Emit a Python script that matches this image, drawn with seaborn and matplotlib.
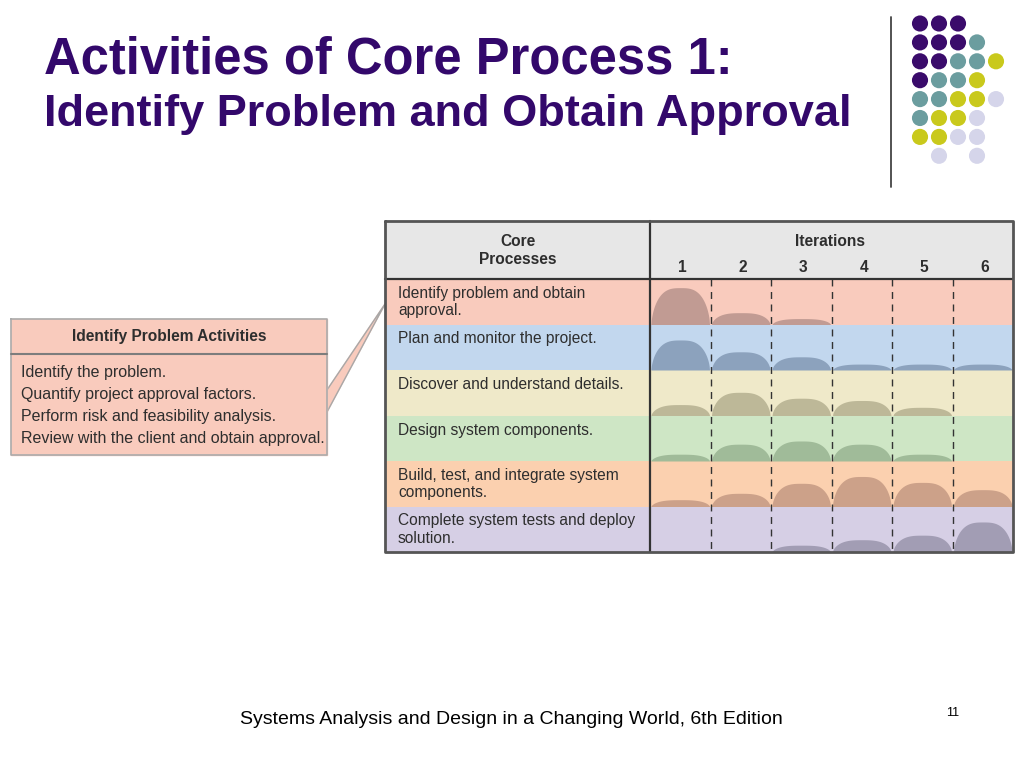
import matplotlib.pyplot as plt
import seaborn as sns
import pandas as pd
import numpy as np

# slide text
title_1 = "Activities of Core Process 1:"
title_2 = "Identify Problem and Obtain Approval"
footer = "Systems Analysis and Design in a Changing World, 6th Edition"
page_no = "11"

# table content
processes = ["Identify problem and obtain\napproval.",
             "Plan and monitor the project.",
             "Discover and understand details.",
             "Design system components.",
             "Build, test, and integrate system\ncomponents.",
             "Complete system tests and deploy\nsolution."]
iterations = ["1", "2", "3", "4", "5", "6"]
# effort per iteration, as fraction of the row height
effort = [
    [0.81, 0.26, 0.13, 0.00, 0.00, 0.00],
    [0.66, 0.40, 0.29, 0.13, 0.13, 0.13],
    [0.24, 0.51, 0.38, 0.33, 0.18, 0.00],
    [0.15, 0.37, 0.44, 0.37, 0.15, 0.00],
    [0.15, 0.29, 0.51, 0.66, 0.53, 0.37],
    [0.00, 0.00, 0.15, 0.27, 0.37, 0.66],
]
row_colors = ["#f9cbbd", "#c2d7ee", "#efe9c9", "#cee6c5", "#fbd0af", "#d6cfe5"]
hump_colors = ["#c19b93", "#8ca2bd", "#bdb898", "#a0bb99", "#cca189", "#a29db4"]

# callout box
box_title = "Identify Problem Activities"
box_items = ["Identify the problem.",
             "Quantify project approval factors.",
             "Perform risk and feasibility analysis.",
             "Review with the client and obtain approval."]

# decorative dot grid (row, col, colour key)
dot_rows = [0, 0, 0,
            1, 1, 1, 1,
            2, 2, 2, 2, 2,
            3, 3, 3, 3,
            4, 4, 4, 4, 4,
            5, 5, 5, 5,
            6, 6, 6, 6,
            7, 7]
dot_cols = [0, 1, 2,
            0, 1, 2, 3,
            0, 1, 2, 3, 4,
            0, 1, 2, 3,
            0, 1, 2, 3, 4,
            0, 1, 2, 3,
            0, 1, 2, 3,
            1, 3]
dot_keys = ["P", "P", "P",
            "P", "P", "P", "T",
            "P", "P", "T", "T", "Y",
            "P", "T", "T", "Y",
            "T", "T", "Y", "Y", "L",
            "T", "Y", "Y", "L",
            "Y", "Y", "L", "L",
            "L", "L"]
dot_palette = {"P": "#3a0b6b", "T": "#6b9d9f", "Y": "#c9c91c", "L": "#d5d5ea"}

PURPLE = "#33086b"
TXT = "#2e2e2e"
FONT = ["Liberation Sans", "DejaVu Sans"]
FS = 11.2


def hump(x0, x1, h, base):
    u = np.linspace(-1, 1, 160)
    f = (1 - np.abs(u) ** 3) ** 0.6
    return np.linspace(x0, x1, 160), base - h * f


def main():
    sns.set_style("white")
    plt.rcParams['font.family'] = FONT

    fig = plt.figure(figsize=(10.24, 7.68), dpi=100)
    ax = fig.add_axes([0, 0, 1, 1])
    ax.set_xlim(0, 1024)
    ax.set_ylim(768, 0)
    ax.axis('off')

    # titles
    ax.text(44, 73, title_1, fontsize=36.5, fontweight='bold', color=PURPLE, va='baseline')
    ax.text(44, 126, title_2, fontsize=32.5, fontweight='bold', color=PURPLE, va='baseline')
    ax.plot([891, 891], [17, 187], color="#444444", lw=1.3)

    # dot grid
    dots = pd.DataFrame({"x": [920 + 19 * c for c in dot_cols],
                         "y": [23.5 + 18.9 * r for r in dot_rows],
                         "k": dot_keys})
    sns.scatterplot(data=dots, x="x", y="y", hue="k", palette=dot_palette,
                    s=135, edgecolor='none', legend=False, ax=ax)

    # table geometry
    L, M, R = 385, 650, 1013
    top, head, bot = 221, 279, 552
    rh = (bot - head) / len(processes)
    cw = (R - M) / len(iterations)

    ax.fill_between([L, R], top, head, color="#e7e7e7", zorder=1)
    for i, name in enumerate(processes):
        y0 = head + i * rh
        ax.fill_between([L, R], y0, y0 + rh, color=row_colors[i], lw=0, zorder=1)
        for k, line in enumerate(name.split("\n")):
            ax.text(398, y0 + 19 + 17.5 * k, line, fontsize=FS, color=TXT,
                    va='baseline', zorder=3)
        for j, v in enumerate(effort[i]):
            if v <= 0:
                continue
            xs, ys = hump(M + j * cw + 1, M + (j + 1) * cw - 1, v * rh, y0 + rh)
            ax.fill_between(xs, ys, y0 + rh, color=hump_colors[i], lw=0, zorder=2)

    for j in range(1, len(iterations)):
        ax.plot([M + j * cw] * 2, [head, bot], color="#333333", lw=1,
                ls=(0, (5, 4)), zorder=3)
    for j, it in enumerate(iterations):
        ax.text(M + (j + 0.5) * cw + 2, 268, it, fontsize=FS, fontweight='bold',
                color=TXT, ha='center', va='center', zorder=3)
    ax.text(518, 241, "Core", fontsize=FS, fontweight='bold', color=TXT,
            ha='center', va='center', zorder=3)
    ax.text(518, 259, "Processes", fontsize=FS, fontweight='bold', color=TXT,
            ha='center', va='center', zorder=3)
    ax.text(830, 241, "Iterations", fontsize=FS, fontweight='bold', color=TXT,
            ha='center', va='center', zorder=3)

    ax.plot([L, R], [head, head], color="#333333", lw=1.6, zorder=4)
    ax.plot([M, M], [top, bot], color="#333333", lw=1.6, zorder=4)
    ax.plot([L, R, R, L, L], [top, top, bot, bot, top], color="#555555", lw=2, zorder=4)

    # callout
    ax.fill([327, 385, 327], [390, 304, 412], color="#f9cbbd", zorder=1)
    ax.plot([327, 385, 327], [390, 304, 412], color="#a8a8a8", lw=1, zorder=1)
    ax.fill_between([11, 327], 319, 455, color="#f9cbbd", zorder=2)
    ax.plot([11, 327, 327, 11, 11], [319, 319, 455, 455, 319], color="#ababab", lw=1.2, zorder=3)
    ax.plot([11, 327], [354, 354], color="#7d7d7d", lw=1.5, zorder=3)
    ax.text(169, 336, box_title, fontsize=FS, fontweight='bold', color=TXT,
            ha='center', va='center', zorder=3)
    for k, item in enumerate(box_items):
        ax.text(21, 372 + 22 * k, item, fontsize=11.5, color=TXT, va='center', zorder=3)

    # footer
    ax.text(511, 724, footer, fontsize=14, color="black", ha='center', va='baseline')
    ax.text(953, 713, page_no, fontsize=9, color="black", ha='center', va='center')

    fig.savefig("out.png", dpi=100)


if __name__ == '__main__':
    main()
